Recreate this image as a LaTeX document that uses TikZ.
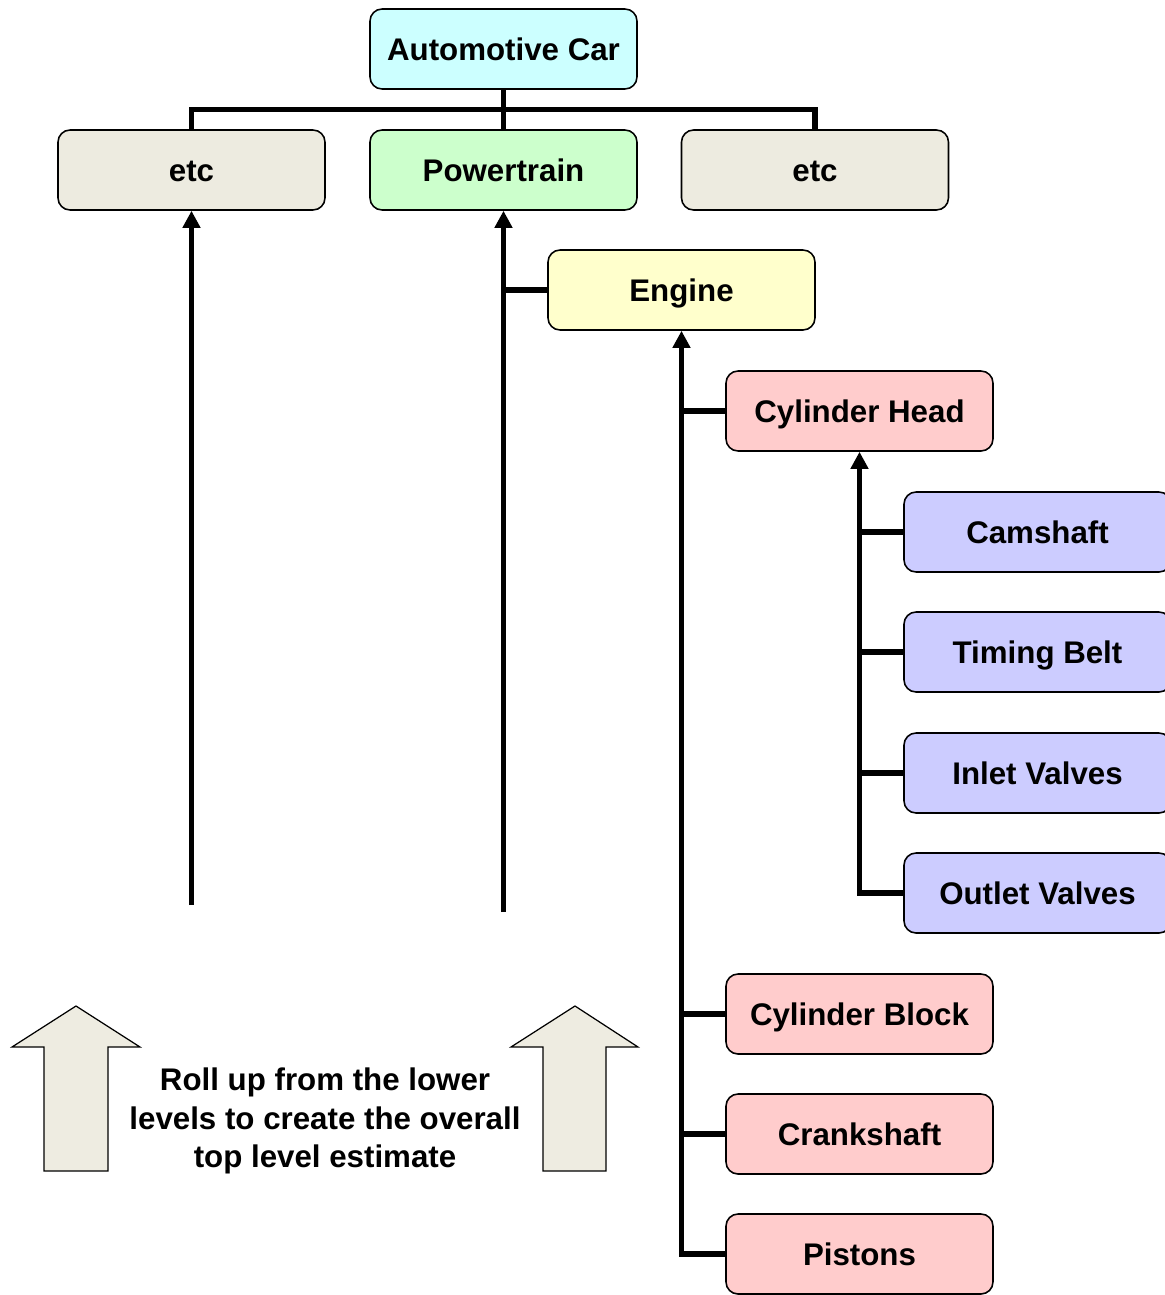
\documentclass[tikz,border=0pt]{standalone}
\usepackage{fontspec}
\setmainfont{Liberation Sans}
\usetikzlibrary{arrows.meta}
\definecolor{carcol}{HTML}{CCFFFF}
\definecolor{etccol}{HTML}{EDEBE0}
\definecolor{ptcol}{HTML}{CCFFCC}
\definecolor{engcol}{HTML}{FFFFCC}
\definecolor{redcol}{HTML}{FFCCCC}
\definecolor{bluecol}{HTML}{CCCCFF}
\definecolor{arrcol}{HTML}{EEECE1}
\tikzset{
  box/.style={draw=black, line width=0.9pt, rounded corners=0.24cm,
    minimum width=5.34cm, minimum height=1.6cm, inner sep=0pt,
    text height=12.7pt, text depth=0pt,
    font=\fontsize{17.8}{21.8}\selectfont\bfseries},
  conn/.style={line width=2.9pt, line join=miter},
  tip/.style={conn, -{Triangle[length=0.34cm,width=0.34cm]}},
  bigarrow/.style={draw=black, line width=0.7pt, fill=arrcol, line join=miter},
}
\begin{document}
\begin{tikzpicture}[x=0.02cm, y=-0.02cm]
\useasboundingbox (0,0) rectangle (1165,1295);
\clip (0,0) rectangle (1165,1295);
% nodes
\node[box, fill=carcol] (car) at (503.5,49) {Automotive Car};
\node[box, fill=etccol] (etcL) at (191.5,170) {etc};
\node[box, fill=ptcol] (pt) at (503.5,170) {Powertrain};
\node[box, fill=etccol] (etcR) at (815,170) {etc};
\node[box, fill=engcol] (eng) at (681.5,290) {Engine};
\node[box, fill=redcol] (ch) at (859.5,411) {Cylinder Head};
\node[box, fill=bluecol] (cam) at (1037.5,532) {Camshaft};
\node[box, fill=bluecol] (tb) at (1037.5,652) {Timing Belt};
\node[box, fill=bluecol] (iv) at (1037.5,773) {Inlet Valves};
\node[box, fill=bluecol] (ov) at (1037.5,893) {Outlet Valves};
\node[box, fill=redcol] (cb) at (859.5,1014) {Cylinder Block};
\node[box, fill=redcol] (cs) at (859.5,1134) {Crankshaft};
\node[box, fill=redcol] (pis) at (859.5,1254) {Pistons};
% free ends
\coordinate (etcLend) at (191.5,905);
\coordinate (ptend) at (503.5,912);
% top connectors
\draw[conn] (car.south) -- (pt.north);
\draw[conn] (etcL.north) -- ++(0,-20) -| (etcR.north);
% roll-up lines
\draw[tip] (etcLend) -- (etcL.south);
\draw[tip] (ptend) -- (pt.south);
\draw[conn] (eng.west) -- (eng.west -| pt.south);
\draw[tip] (pis.west) -| (eng.south);
\draw[conn] (ch.west) -- (ch.west -| eng.south);
\draw[conn] (cb.west) -- (cb.west -| eng.south);
\draw[conn] (cs.west) -- (cs.west -| eng.south);
\draw[tip] (ov.west) -| (ch.south);
\draw[conn] (cam.west) -- (cam.west -| ch.south);
\draw[conn] (tb.west) -- (tb.west -| ch.south);
\draw[conn] (iv.west) -- (iv.west -| ch.south);
% block arrows
\draw[bigarrow] (76,1006) -- (140,1047) -- (108,1047) -- (108,1171) -- (44,1171) -- (44,1047) -- (12,1047) -- cycle;
\draw[bigarrow] (575,1006) -- (638,1047) -- (606,1047) -- (606,1171) -- (543,1171) -- (543,1047) -- (511,1047) -- cycle;
\node[align=center, font=\fontsize{17.8}{21.8}\selectfont\bfseries, inner sep=0pt] (txt) at (325,1121)
  {Roll up from the lower\\levels to create the overall\\top level estimate};
\end{tikzpicture}
\end{document}
